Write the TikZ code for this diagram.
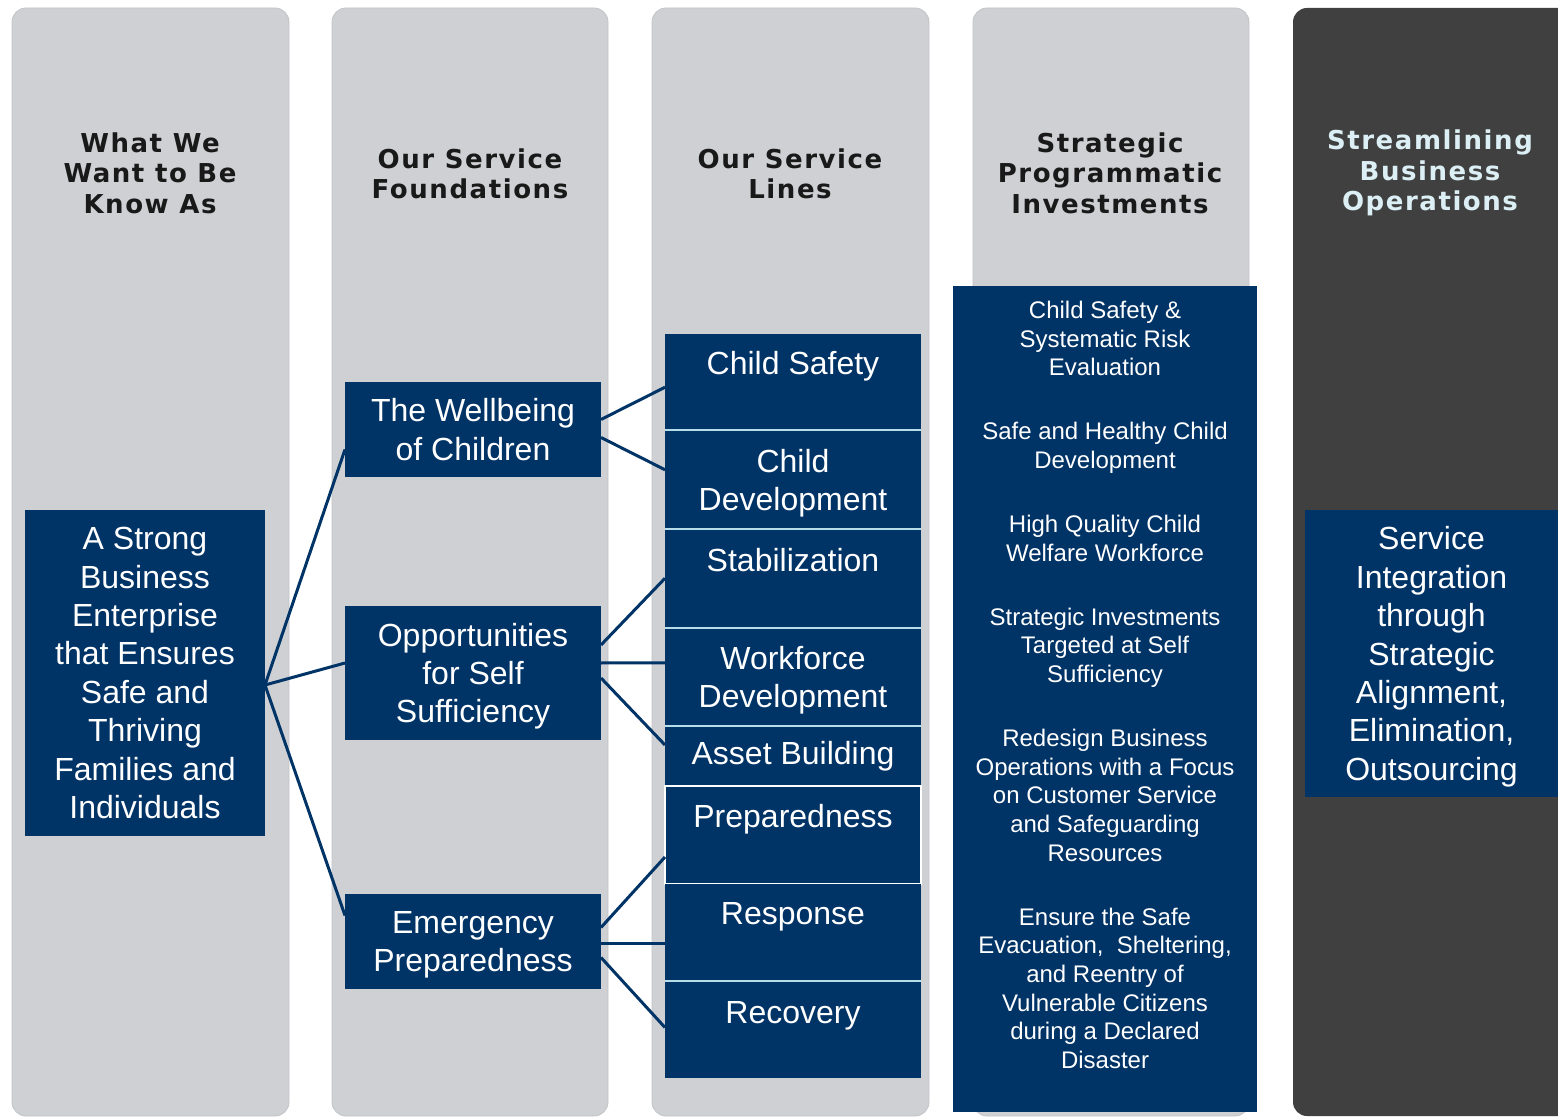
\documentclass[tikz,border=0pt]{standalone}
\usepackage{fontspec}
\setmainfont{Liberation Sans}
\newfontfamily\headfont[LetterSpace=6]{DejaVu Sans}
\usetikzlibrary{positioning}

\definecolor{navy}{HTML}{003366}
\definecolor{colgrey}{HTML}{CFD0D4}
\definecolor{colrim}{HTML}{C3C4C8}
\definecolor{coldark}{HTML}{404040}
\definecolor{seplight}{HTML}{B7DEE8}
\definecolor{headlight}{HTML}{DCEFF4}

\begin{document}
\begin{tikzpicture}[x=0.5pt, y=-0.5pt, node distance=0pt,
    every node/.style={inner sep=0pt, outer sep=0pt, align=center},
    head/.style={font=\headfont\bfseries\fontsize{13}{15.3}\selectfont, text=black!90},
    navybox/.style={fill=navy, text=white, font=\fontsize{16}{19.2}\selectfont, minimum width=128pt},
    link/.style={draw=navy, line width=1.5pt},
    sep/.style={draw=seplight, line width=1pt}]
        \useasboundingbox (0,0) rectangle (1558,1117);
        \clip (0,0) rectangle (1558,1117);

        % columns
        \filldraw[fill=colgrey, draw=colrim, rounded corners=7pt] (12,8) rectangle (289,1116);
        \filldraw[fill=colgrey, draw=colrim, rounded corners=7pt] (332,8) rectangle (608,1116);
        \filldraw[fill=colgrey, draw=colrim, rounded corners=7pt] (652,8) rectangle (929,1116);
        \filldraw[fill=colgrey, draw=colrim, rounded corners=7pt] (973,8) rectangle (1249,1116);
        \fill[coldark, rounded corners=7pt] (1293,8) rectangle (1590,1116);

        % headers
        \node (hdwant) [head] at (150,173) {What We\\Want to Be\\Know As};
        \node (hdfound) [head] at (470,174) {Our Service\\Foundations};
        \node (hdlines) [head] at (790,174) {Our Service\\Lines};
        \node (hdinvest) [head] at (1110,173) {Strategic\\Programmatic\\Investments};
        \node (hdstream) [head, text=headlight] at (1430,173) {Streamlining\\Business\\Operations};

        % what we want to be
        \node (strong) [navybox, minimum width=120pt, minimum height=163pt] at (145,673)
            {A Strong\\Business\\Enterprise\\that Ensures\\Safe and\\Thriving\\Families and\\Individuals};

        % foundations
        \node (wellbeing) [navybox, minimum height=47.5pt, text depth=0pt] at (473,429.5) {The Wellbeing\\of Children};
        \node (opport) [navybox, minimum height=67pt, text depth=0pt] at (473,673) {Opportunities\\for Self\\Sufficiency};
        \node (emerg) [navybox, minimum height=47.5pt, text depth=0pt] at (473,941.5) {Emergency\\Preparedness};

        % service lines
        \node (childsafety) [navybox, anchor=north, text height=20.5pt, text depth=27.75pt] at (793,334) {Child Safety};
        \node (childdev) [navybox, below=of childsafety, minimum height=49.25pt, text depth=0pt] {Child\\Development};
        \node (stab) [navybox, below=of childdev, text height=21pt, text depth=28.25pt] {Stabilization};
        \node (workforce) [navybox, below=of stab, minimum height=49.25pt, text depth=0pt] {Workforce\\Development};
        \node (asset) [navybox, below=of workforce, minimum height=30pt] {Asset Building};
        \node (prep) [navybox, below=of asset, draw=white, line width=0.6pt, text height=20.5pt, text depth=28.5pt] {Preparedness};
        \node (response) [navybox, below=of prep, text height=20pt, text depth=28.5pt] {Response};
        \node (recovery) [navybox, below=of response, text height=21pt, text depth=27.5pt] {Recovery};

        \draw[sep] (childsafety.south west) -- (childsafety.south east);
        \draw[sep] (childdev.south west) -- (childdev.south east);
        \draw[sep] (stab.south west) -- (stab.south east);
        \draw[sep] (workforce.south west) -- (workforce.south east);
        \draw[sep] (response.south west) -- (response.south east);

        % investments
        \node (invest) [navybox, minimum width=152pt, minimum height=413pt] at (1105,699) {};
        \node (investtext) [text=white, font=\fontsize{12}{14.35}\selectfont] at (1105,685)
            {Child Safety \&\\Systematic Risk\\Evaluation\\[17.6pt]
             Safe and Healthy Child\\Development\\[17.6pt]
             High Quality Child\\Welfare Workforce\\[17.6pt]
             Strategic Investments\\Targeted at Self\\Sufficiency\\[17.6pt]
             Redesign Business\\Operations with a Focus\\on Customer Service\\and Safeguarding\\Resources\\[17.6pt]
             Ensure the Safe\\Evacuation,~ Sheltering,\\and Reentry of\\Vulnerable Citizens\\during a Declared\\Disaster};

        % streamlining
        \node (service) [navybox, minimum width=126.5pt, minimum height=143.5pt, text depth=0pt] at (1431.5,653.5)
            {Service\\Integration\\through\\Strategic\\Alignment,\\Elimination,\\Outsourcing};

        % links
        \draw[link] ([yshift=-6pt]strong.east) -- ([yshift=-10pt]wellbeing.west);
        \draw[link] ([yshift=-6pt]strong.east) -- ([yshift=5pt]opport.west);
        \draw[link] ([yshift=-6pt]strong.east) -- ([yshift=13pt]emerg.west);

        \draw[link] ([yshift=5pt]wellbeing.east) -- ([yshift=-2.5pt]childsafety.west);
        \draw[link] ([yshift=-4pt]wellbeing.east) -- ([yshift=5pt]childdev.west);
        \draw[link] ([yshift=14pt]opport.east) -- (stab.west);
        \draw[link] ([yshift=5pt]opport.east) -- ([yshift=7pt]workforce.west);
        \draw[link] ([yshift=-2.5pt]opport.east) -- ([yshift=5.5pt]asset.west);
        \draw[link] ([yshift=7pt]emerg.east) -- ([yshift=-11pt]prep.west);
        \draw[link] ([yshift=-0.75pt]emerg.east) -- ([yshift=-5.25pt]response.west);
        \draw[link] ([yshift=-8pt]emerg.east) -- ([yshift=1pt]recovery.west);
    \end{tikzpicture}
\end{document}
